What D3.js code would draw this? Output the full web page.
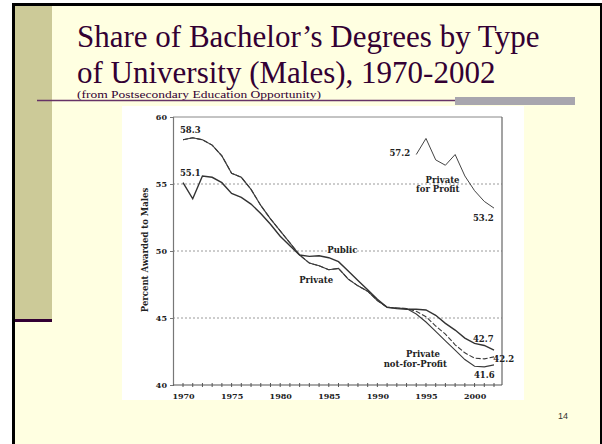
<!DOCTYPE html>
<html>
<head>
<meta charset="utf-8">
<script src="https://cdn.jsdelivr.net/npm/d3@7"></script>
<style>
  body { margin: 0; background: #fff; }
  svg { display: block; }
</style>
</head>
<body>
<div id="container"></div>
<script>
const WIDTH = 602;
const HEIGHT = 444;

// data
var years = [1970, 1971, 1972, 1973, 1974, 1975, 1976, 1977, 1978, 1979,
             1980, 1981, 1982, 1983, 1984, 1985, 1986, 1987, 1988, 1989,
             1990, 1991, 1992, 1993, 1994, 1995, 1996, 1997, 1998, 1999,
             2000, 2001, 2002];
var publicShare = [55.1, 53.9, 55.6, 55.5, 55.1, 54.3, 54.0, 53.5, 52.8, 52.0,
                   51.1, 50.4, 49.7, 49.6, 49.65, 49.5, 49.2, 48.5, 47.8, 47.1,
                   46.4, 45.8, 45.7, 45.65, 45.65, 45.6, 45.2, 44.6, 44.1, 43.5,
                   43.1, 42.95, 42.6];
var privateShare = [58.3, 58.45, 58.3, 57.9, 57.1, 55.8, 55.5, 54.6, 53.4, 52.4,
                    51.5, 50.6, 49.7, 49.1, 48.9, 48.6, 48.7, 47.9, 47.4, 47.0,
                    46.3, 45.8, 45.75, 45.7, 45.5, 45.1, 44.4, 43.8, 43.0, 42.4,
                    42.0, 41.95, 42.1];
var privateNfpShare = [58.3, 58.45, 58.3, 57.9, 57.1, 55.8, 55.5, 54.6, 53.4, 52.4,
                       51.5, 50.6, 49.7, 49.1, 48.9, 48.6, 48.7, 47.9, 47.4, 47.0,
                       46.3, 45.8, 45.75, 45.7, 45.3, 44.7, 44.0, 43.3, 42.6, 41.9,
                       41.4, 41.35, 41.5];
var forProfitYears = [1994, 1995, 1996, 1997, 1998, 1999, 2000, 2001, 2002];
var forProfitShare = [57.2, 58.4, 56.8, 56.4, 57.2, 55.6, 54.5, 53.7, 53.2];

var yTicks = [40, 45, 50, 55, 60];
var xTickLabels = [1970, 1975, 1980, 1985, 1990, 1995, 2000];

// annotations: text, year, value, anchor
var notes = [
    {t: "58.3", x: 1970.75, y: 59.0, a: "middle"},
    {t: "55.1", x: 1970.75, y: 55.8, a: "middle"},
    {t: "Public", x: 1986.4, y: 50.1, a: "middle"},
    {t: "Private", x: 1983.7, y: 47.85, a: "middle"},
    {t: "57.2", x: 1992.3, y: 57.3, a: "middle"},
    {t: "Private", x: 1998.45, y: 55.3, a: "end"},
    {t: "for Profit", x: 1998.45, y: 54.6, a: "end"},
    {t: "53.2", x: 2000.9, y: 52.45, a: "middle"},
    {t: "42.7", x: 2000.9, y: 43.4, a: "middle"},
    {t: "42.2", x: 2003.0, y: 41.95, a: "middle"},
    {t: "Private", x: 1994.7, y: 42.3, a: "middle"},
    {t: "not-for-Profit", x: 1993.9, y: 41.55, a: "middle"},
    {t: "41.6", x: 2001.0, y: 40.75, a: "middle"}
];

var svg = d3.select("#container").append("svg")
    .attr("width", WIDTH)
    .attr("height", HEIGHT);

// slide background
svg.append("rect").attr("x", 12).attr("y", 3).attr("width", 590).attr("height", 441).attr("fill", "#000");
svg.append("rect").attr("x", 15).attr("y", 6).attr("width", 585).attr("height", 438).attr("fill", "#FFFFE1");
svg.append("rect").attr("x", 15).attr("y", 6).attr("width", 37).attr("height", 313).attr("fill", "#CCCA98");
svg.append("rect").attr("x", 15).attr("y", 319).attr("width", 37).attr("height", 3).attr("fill", "#330033");

// title
var title = svg.append("g")
    .attr("font-family", "'Liberation Serif', 'Times New Roman', serif")
    .attr("fill", "#330033");
title.append("text").attr("x", 77).attr("y", 47).attr("font-size", 31)
    .text("Share of Bachelor\u2019s Degrees by Type");
title.append("text").attr("x", 77).attr("y", 83).attr("font-size", 31)
    .text("of University (Males), 1970-2002");
title.append("text").attr("x", 77).attr("y", 97.5).attr("font-size", 10.5)
    .attr("textLength", 244).attr("lengthAdjust", "spacingAndGlyphs")
    .text("(from Postsecondary Education Opportunity)");

svg.append("line").attr("x1", 37).attr("x2", 456).attr("y1", 100.5).attr("y2", 100.5)
    .attr("stroke", "#663366").attr("stroke-width", 1.5);
svg.append("rect").attr("x", 455).attr("y", 97).attr("width", 120).attr("height", 8)
    .attr("fill", "#A8A6AE");

svg.append("text").attr("x", 563).attr("y", 419).attr("text-anchor", "middle")
    .attr("font-family", "'Liberation Sans', Arial, sans-serif").attr("font-size", 9)
    .attr("fill", "#333").text("14");

// scanned chart
svg.append("rect").attr("x", 122).attr("y", 106).attr("width", 402).attr("height", 294)
    .attr("fill", "#fff");

var x = d3.scaleLinear().domain([1970, 2002]).range([183, 494]);
var y = d3.scaleLinear().domain([40, 60]).range([385, 117]);
var x0 = 173, x1 = 502;

var chart = svg.append("g")
    .attr("font-family", "'DejaVu Serif', serif")
    .attr("font-weight", "bold")
    .attr("fill", "#222");

// dotted gridlines
chart.selectAll(".grid").data([45, 50, 55]).enter().append("line")
    .attr("x1", x0).attr("x2", x1)
    .attr("y1", d => y(d)).attr("y2", d => y(d))
    .attr("stroke", "#9a9a9a").attr("stroke-width", 1)
    .attr("stroke-dasharray", "2,2");

// frame
chart.append("line").attr("x1", x0).attr("x2", x1).attr("y1", y(60)).attr("y2", y(60))
    .attr("stroke", "#888").attr("stroke-width", 1);
chart.append("line").attr("x1", x1).attr("x2", x1).attr("y1", y(60)).attr("y2", y(40))
    .attr("stroke", "#666").attr("stroke-width", 1.2);

// y axis
var yAxis = chart.append("g").attr("transform", "translate(" + x0 + ",0)")
    .call(d3.axisLeft(y).tickValues(yTicks).tickSize(3).tickPadding(3));
yAxis.select(".domain").attr("stroke", "#777").attr("stroke-width", 1.2);
yAxis.selectAll(".tick line").attr("stroke", "#777");
yAxis.selectAll(".tick text").attr("font-family", "'DejaVu Serif', serif")
    .attr("font-weight", "bold").attr("font-size", 8).attr("fill", "#222");

// x axis: labels every five years, crosses every year
var xAxis = chart.append("g").attr("transform", "translate(0," + y(40) + ")")
    .call(d3.axisBottom(x).tickValues(xTickLabels).tickFormat(d3.format("d"))
        .tickSize(0).tickPadding(8));
xAxis.select(".domain").remove();
xAxis.selectAll(".tick text").attr("font-family", "'DejaVu Serif', serif")
    .attr("font-weight", "bold").attr("font-size", 8).attr("fill", "#222");
chart.append("line").attr("x1", x0).attr("x2", x1).attr("y1", y(40)).attr("y2", y(40))
    .attr("stroke", "#555").attr("stroke-width", 1.2);
chart.selectAll(".minor").data(years).enter().append("line")
    .attr("x1", d => x(d)).attr("x2", d => x(d))
    .attr("y1", y(40) - 2).attr("y2", y(40) + 2)
    .attr("stroke", "#555").attr("stroke-width", 1);

chart.append("text")
    .attr("transform", "translate(148,250) rotate(-90)")
    .attr("text-anchor", "middle").attr("font-size", 8.5)
    .text("Percent Awarded to Males");

// series
var line = d3.line().x(d => x(d[0])).y(d => y(d[1]));
var pairs = (xs, vs) => xs.map((v, i) => [v, vs[i]]);

chart.append("path").datum(pairs(years, privateNfpShare))
    .attr("d", line).attr("fill", "none").attr("stroke", "#3a3a3a").attr("stroke-width", 1.1);
chart.append("path").datum(pairs(years, privateShare))
    .attr("d", line).attr("fill", "none").attr("stroke", "#3a3a3a").attr("stroke-width", 1.1)
    .attr("stroke-dasharray", "5,2");
chart.append("path").datum(pairs(years, publicShare))
    .attr("d", line).attr("fill", "none").attr("stroke", "#333").attr("stroke-width", 1.4);
chart.append("path").datum(pairs(forProfitYears, forProfitShare))
    .attr("d", line).attr("fill", "none").attr("stroke", "#444").attr("stroke-width", 1);

chart.selectAll(".note").data(notes).enter().append("text")
    .attr("x", d => x(d.x)).attr("y", d => y(d.y))
    .attr("dy", "0.35em")
    .attr("text-anchor", d => d.a)
    .attr("font-size", 8.5)
    .text(d => d.t);
</script>
</body>
</html>
